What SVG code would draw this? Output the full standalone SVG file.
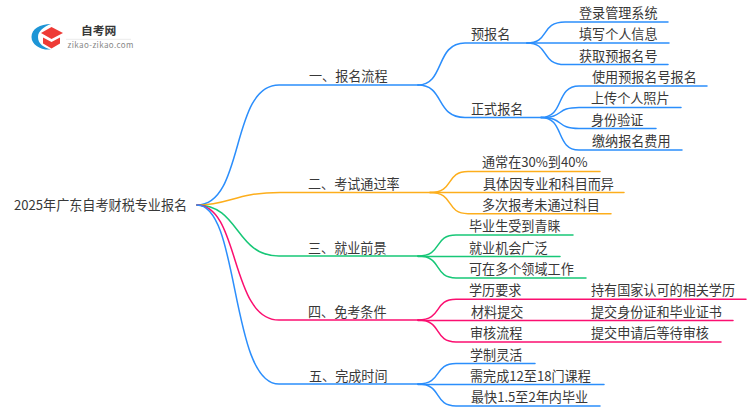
<svg xmlns="http://www.w3.org/2000/svg" width="750" height="410" viewBox="0 0 750 410">
<style>
text{font-family:"Noto Sans CJK SC","Noto Sans",sans-serif;font-size:13.1px;fill:#383838}
.c{fill:none;stroke-width:1.5;stroke-linecap:round}
.b{stroke:#2b8efc}.o{stroke:#fdae1c}.g{stroke:#17c777}.p{stroke:#fb0f70}
</style>
<rect width="750" height="410" fill="#fff"/>
<g id="logo">
<path d="M51 24C40 24 31.500 29 31.500 37C31.500 45 41 50.500 51 49.500C44 47.500 38 44 38 37C38 31 44 26.500 51 24Z" fill="#1d95d6"/>
<path d="M51.500 27L63 33L51.500 39L41 33Z" fill="#ee3b36"/>
<path d="M43 37.500L51.500 42L60 37.500V43.500L51.500 48.500L43 43.500Z" fill="#ee3b36"/>
<text x="81" y="35" style="font-size:11.800px;font-weight:700">自考网</text>
<path d="M66 39.300H131" stroke="#e6e6e6" stroke-width="0.800" fill="none"/>
<text x="67.500" y="48" style="font-size:8px;fill:#888;letter-spacing:0.400px">zikao-zikao.com</text>
</g>
<g id="connectors">
<path class="c b" d="M197 205C245 205 230 85 279 85H418"/>
<path class="c o" d="M197 205C230 205 235 192.500 280 192.500H430"/>
<path class="c g" d="M197 205C240 205 235 256 279 256H418"/>
<path class="c p" d="M197 205C240 205 230 320 279 320H418"/>
<path class="c b" d="M197 205C240 205 230 384 279 384H418"/>
<path class="c b" d="M418 85C445 85 435 43 465 43H527"/>
<path class="c b" d="M418 85C445 85 435 117.500 465 117.500H541"/>
<path class="c b" d="M527 43C550 43 540 22 565 22H668"/>
<path class="c b" d="M527 43H669"/>
<path class="c b" d="M527 43C550 43 540 64.500 565 64.500H668"/>
<path class="c b" d="M541 117.500C565 117.500 555 86 579 86H707"/>
<path class="c b" d="M541 117.500C565 117.500 555 107.500 579 107.500H681"/>
<path class="c b" d="M541 117.500C565 117.500 555 128.500 579 128.500H656"/>
<path class="c b" d="M541 117.500C565 117.500 555 150 579 150H682"/>
<path class="c o" d="M430 192.500C455 192.500 445 171.500 468 171.500H600"/>
<path class="c o" d="M430 192.500H624"/>
<path class="c o" d="M430 192.500C455 192.500 445 213.700 468 213.700H611"/>
<path class="c g" d="M418 256C443 256 433 235 456 235H573"/>
<path class="c g" d="M418 256.500H560"/>
<path class="c g" d="M418 256C443 256 433 278 456 278H586"/>
<path class="c p" d="M418 320C443 320 433 299.300 456 299.300H746"/>
<path class="c p" d="M418 320.500H733"/>
<path class="c p" d="M418 320C443 320 433 342 456 342H721"/>
<path class="c b" d="M418 384C443 384 433 363.500 456 363.500H535"/>
<path class="c b" d="M418 384.500H604"/>
<path class="c b" d="M418 384C443 384 433 406 456 406H600"/>
</g>
<g id="root"><text x="14" y="210">2025年广东自考财税专业报名</text></g>
<g id="n1"><text x="309" y="81">一、报名流程</text></g>
<g id="n2"><text x="308" y="189">二、考试通过率</text></g>
<g id="n3"><text x="308" y="253">三、就业前景</text></g>
<g id="n4"><text x="308" y="317">四、免考条件</text></g>
<g id="n5"><text x="309" y="381">五、完成时间</text></g>
<g id="n1-1"><text x="471" y="39">预报名</text></g>
<g id="n1-2"><text x="471" y="114">正式报名</text></g>
<g id="n1-1-1"><text x="579" y="18">登录管理系统</text></g>
<g id="n1-1-2"><text x="579" y="39">填写个人信息</text></g>
<g id="n1-1-3"><text x="579" y="61">获取预报名号</text></g>
<g id="n1-2-1"><text x="592" y="82">使用预报名号报名</text></g>
<g id="n1-2-2"><text x="591" y="103">上传个人照片</text></g>
<g id="n1-2-3"><text x="591" y="125">身份验证</text></g>
<g id="n1-2-4"><text x="592" y="146">缴纳报名费用</text></g>
<g id="n2-1"><text x="482" y="167">通常在30%到40%</text></g>
<g id="n2-2"><text x="483" y="189">具体因专业和科目而异</text></g>
<g id="n2-3"><text x="482" y="210">多次报考未通过科目</text></g>
<g id="n3-1"><text x="469" y="231">毕业生受到青睐</text></g>
<g id="n3-2"><text x="469" y="253">就业机会广泛</text></g>
<g id="n3-3"><text x="469" y="274">可在多个领域工作</text></g>
<g id="n4-1"><text x="469" y="295">学历要求</text></g>
<g id="n4-1-1"><text x="591" y="295">持有国家认可的相关学历</text></g>
<g id="n4-2"><text x="471" y="317">材料提交</text></g>
<g id="n4-2-1"><text x="591" y="317">提交身份证和毕业证书</text></g>
<g id="n4-3"><text x="470" y="338">审核流程</text></g>
<g id="n4-3-1"><text x="591" y="338">提交申请后等待审核</text></g>
<g id="n5-1"><text x="470" y="360">学制灵活</text></g>
<g id="n5-2"><text x="470" y="381">需完成12至18门课程</text></g>
<g id="n5-3"><text x="471" y="402">最快1.5至2年内毕业</text></g>
</svg>
